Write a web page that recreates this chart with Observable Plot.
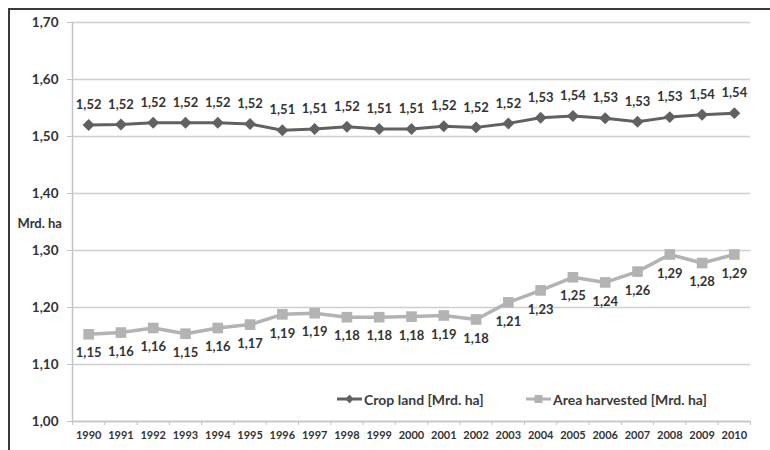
<!DOCTYPE html>
<html>
<head>
<meta charset="utf-8">
<script src="https://cdn.jsdelivr.net/npm/d3@7"></script>
<script src="https://cdn.jsdelivr.net/npm/@observablehq/plot@0.6"></script>
<style>
  body { margin: 0; background: #fff; }
  #wrap { position: relative; width: 770px; height: 450px; overflow: hidden; font-family: Lato, "Open Sans", sans-serif; }
  #frame { position: absolute; left: 8px; top: 8px; right: -4px; bottom: -4px; border-left: 2px solid #3a3a3a; border-top: 2px solid #3a3a3a; pointer-events: none; }
  #legend { position: absolute; top: 390px; left: 0; width: 770px; height: 18px; font-weight: 700; font-size: 14px; color: #3a3a3a; }
  .item { position: absolute; top: 0; display: flex; align-items: center; height: 18px; }
  .item svg { margin-right: 2px; }
</style>
</head>
<body>
<div id="wrap"><div id="frame"></div><div id="legend"></div></div>
<script>
const years = [1990,1991,1992,1993,1994,1995,1996,1997,1998,1999,2000,2001,2002,2003,2004,2005,2006,2007,2008,2009,2010];
const cropLand = [1.520,1.521,1.524,1.524,1.524,1.522,1.511,1.513,1.517,1.513,1.513,1.518,1.516,1.523,1.533,1.536,1.532,1.526,1.534,1.538,1.541];
const areaHarvested = [1.153,1.156,1.164,1.154,1.164,1.170,1.188,1.190,1.183,1.183,1.184,1.186,1.179,1.209,1.230,1.253,1.244,1.263,1.293,1.278,1.293];
const yTicks = [1.0,1.1,1.2,1.3,1.4,1.5,1.6,1.7];
const seriesNames = ["Crop land [Mrd. ha]", "Area harvested [Mrd. ha]"];
const yUnit = "Mrd. ha";

const cropColor = "#616161";
const areaColor = "#b3b3b3";
const textColor = "#333333";

const crop = years.map((y, i) => ({year: y, v: cropLand[i]}));
const area = years.map((y, i) => ({year: y, v: areaHarvested[i]}));
const boundaries = [...years.map(y => y - 0.5), years[years.length - 1] + 0.5];
const fmt = v => v.toFixed(2).replace(".", ",");

const chart = Plot.plot({
  width: 770,
  height: 450,
  marginLeft: 72,
  marginRight: 20,
  marginTop: 22,
  marginBottom: 29,
  style: {fontFamily: "Lato, 'Open Sans', sans-serif", fontWeight: 700, color: textColor, background: "transparent"},
  x: {domain: [years[0] - 0.5, years[years.length - 1] + 0.5]},
  y: {domain: [yTicks[0], yTicks[yTicks.length - 1]]},
  marks: [
    Plot.gridY(yTicks, {stroke: "#cfcfcf", strokeOpacity: 1, strokeWidth: 1.3}),
    Plot.ruleX([boundaries[0]], {stroke: "#c4c4c4", strokeWidth: 1.5}),
    Plot.ruleY([yTicks[0]], {stroke: "#c4c4c4", strokeWidth: 1.5}),
    Plot.axisY({ticks: yTicks, tickFormat: fmt, tickSize: 5, tickPadding: 9, stroke: "#c4c4c4", fontSize: 13.5, label: null}),
    Plot.axisX({ticks: boundaries, tickFormat: () => "", tickSize: 4, stroke: "#c4c4c4", label: null}),
    Plot.axisX({ticks: years, tickFormat: d => String(d), tickSize: 0, tickPadding: 10, fontSize: 11, label: null}),
    Plot.text([{t: yUnit, v: 1.3475}], {y: "v", frameAnchor: "left", dx: -55, text: "t", textAnchor: "start", fontSize: 13, fill: textColor}),
    Plot.line(crop, {x: "year", y: "v", stroke: cropColor, strokeWidth: 3}),
    Plot.dot(crop, {x: "year", y: "v", symbol: "diamond2", r: 5.4, fill: cropColor, stroke: "none"}),
    Plot.text(crop, {x: "year", y: "v", text: d => fmt(d.v), dy: -20, fontSize: 13, fill: textColor}),
    Plot.line(area, {x: "year", y: "v", stroke: areaColor, strokeWidth: 3.5}),
    Plot.dot(area, {x: "year", y: "v", symbol: "square", r: 6, fill: areaColor, stroke: "none"}),
    Plot.text(area, {x: "year", y: "v", text: d => fmt(d.v), dy: 19, fontSize: 13, fill: textColor})
  ]
});
chart.style.position = "absolute";
chart.style.left = "0";
chart.style.top = "0";
document.getElementById("wrap").insertBefore(chart, document.getElementById("frame"));

const legend = document.getElementById("legend");
const legendItems = [
  {name: seriesNames[0], color: cropColor, shape: "diamond", left: 337},
  {name: seriesNames[1], color: areaColor, shape: "square", left: 526}
];
for (const it of legendItems) {
  const div = document.createElement("div");
  div.className = "item";
  div.style.left = it.left + "px";
  const marker = it.shape === "diamond"
    ? `<path d="M12.5 4.5 L16.5 9 L12.5 13.5 L8.5 9 Z" fill="${it.color}"/>`
    : `<rect x="8.5" y="5" width="8" height="8" fill="${it.color}"/>`;
  div.innerHTML = `<svg width="25" height="18"><line x1="0" y1="9" x2="25" y2="9" stroke="${it.color}" stroke-width="3"/>${marker}</svg><span>${it.name}</span>`;
  legend.appendChild(div);
}
</script>
</body>
</html>
